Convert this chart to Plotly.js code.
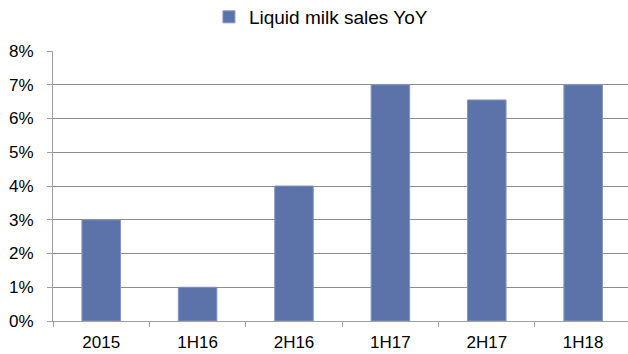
<!DOCTYPE html>
<html>
<head>
<meta charset="utf-8">
<script src="https://cdn.plot.ly/plotly-3.0.1.min.js"></script>
<style>html,body{margin:0;padding:0;overflow:hidden;background:#fff}</style>
</head>
<body>
<div id="chart" style="width:628px;height:354px"></div>
<script>
const categories = ["2015", "1H16", "2H16", "1H17", "2H17", "1H18"];
const salesYoY = [0.03, 0.01, 0.04, 0.07, 0.0655, 0.07];
const seriesName = "Liquid milk sales YoY";
const yTicks = [0, 0.01, 0.02, 0.03, 0.04, 0.05, 0.06, 0.07, 0.08];

const trace = {
  type: "bar",
  x: categories,
  y: salesYoY,
  name: seriesName,
  marker: {color: "#5b73a8", line: {color: "#8496c2", width: 1}},
  hoverinfo: "skip"
};

const layout = {
  width: 628,
  height: 354,
  margin: {l: 53, r: 0, t: 51, b: 33, pad: 0, autoexpand: false},
  paper_bgcolor: "#ffffff",
  plot_bgcolor: "#ffffff",
  font: {family: "Liberation Sans, Arial, sans-serif", size: 17, color: "#000000"},
  bargap: 0.6,
  showlegend: true,
  legend: {
    orientation: "h",
    x: 0.466, xanchor: "center",
    y: 1.126, yanchor: "middle",
    yref: "paper",
    font: {size: 19, color: "#000000"},
    bgcolor: "rgba(0,0,0,0)"
  },
  xaxis: {
    type: "category",
    range: [-0.5, 5.465],
    tickson: "boundaries",
    ticks: "outside",
    ticklen: 5,
    tickcolor: "#a0a0a0",
    showline: true,
    linecolor: "#a0a0a0",
    linewidth: 1,
    showgrid: false,
    zeroline: false,
    ticklabelstandoff: 6,
    tickfont: {size: 17}
  },
  yaxis: {
    range: [0, 0.08],
    tickvals: yTicks,
    tickformat: ".0%",
    ticks: "outside",
    ticklen: 5,
    tickcolor: "#a0a0a0",
    showline: true,
    linecolor: "#a0a0a0",
    linewidth: 1,
    showgrid: true,
    gridcolor: "#8c8c8c",
    gridwidth: 1,
    zeroline: false,
    ticklabelstandoff: 10,
    tickfont: {size: 17}
  }
};

Plotly.newPlot("chart", [trace], layout, {displayModeBar: false, staticPlot: true});
</script>
</body>
</html>
